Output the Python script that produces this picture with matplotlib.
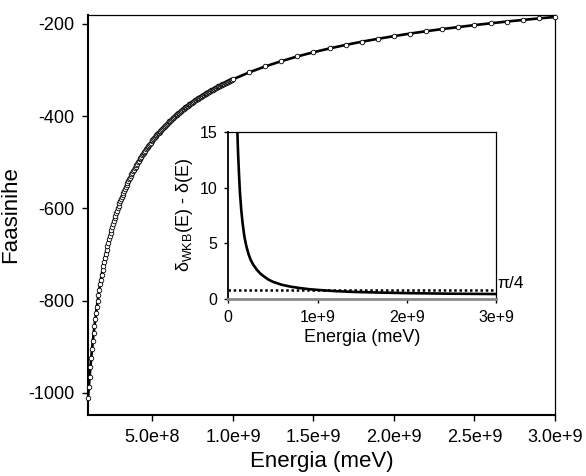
import matplotlib
matplotlib.use("Agg")
import matplotlib.pyplot as plt

plt.rcParams['font.family'] = ['Liberation Sans', 'DejaVu Sans']
plt.rcParams['mathtext.fontset'] = 'custom'
plt.rcParams['mathtext.rm'] = 'Liberation Sans'
plt.rcParams['mathtext.it'] = 'Liberation Sans'
plt.rcParams['axes.unicode_minus'] = False

# main plot: phase shift, dense points from 1e8 to 1e9 (step 5e6), then every 1e8
phase_dense = [
    -1011.9, -987.5, -964.8, -943.6, -923.8, -905.1, -887.5, -870.9, -855.2, -840.4,
    -826.2, -812.8, -800.0, -787.8, -776.1, -765.0, -754.3, -744.0, -734.1, -724.7,
    -715.5, -706.8, -698.3, -690.1, -682.2, -674.6, -667.2, -660.1, -653.2, -646.5,
    -640.0, -633.7, -627.6, -621.6, -615.8, -610.2, -604.7, -599.4, -594.2, -589.2,
    -584.2, -579.4, -574.7, -570.2, -565.7, -561.3, -557.0, -552.9, -548.8, -544.8,
    -540.9, -537.1, -533.3, -529.7, -526.1, -522.6, -519.1, -515.7, -512.4, -509.2,
    -506.0, -502.8, -499.8, -496.7, -493.8, -490.9, -488.0, -485.2, -482.4, -479.7,
    -477.0, -474.4, -471.8, -469.3, -466.8, -464.3, -461.9, -459.5, -457.1, -454.8,
    -452.5, -450.3, -448.1, -445.9, -443.8, -441.6, -439.6, -437.5, -435.5, -433.5,
    -431.5, -429.5, -427.6, -425.7, -423.9, -422.0, -420.2, -418.4, -416.6, -414.9,
    -413.1, -411.4, -409.7, -408.1, -406.4, -404.8, -403.2, -401.6, -400.0, -398.4,
    -396.9, -395.4, -393.9, -392.4, -390.9, -389.5, -388.1, -386.6, -385.2, -383.8,
    -382.5, -381.1, -379.8, -378.4, -377.1, -375.8, -374.5, -373.3, -372.0, -370.7,
    -369.5, -368.3, -367.1, -365.9, -364.7, -363.5, -362.3, -361.2, -360.0, -358.9,
    -357.8, -356.7, -355.6, -354.5, -353.4, -352.3, -351.2, -350.2, -349.1, -348.1,
    -347.1, -346.1, -345.1, -344.1, -343.1, -342.1, -341.1, -340.2, -339.2, -338.3,
    -337.3, -336.4, -335.5, -334.5, -333.6, -332.7, -331.8, -330.9, -330.1, -329.2,
    -328.3, -327.5, -326.6, -325.8, -324.9, -324.1, -323.3, -322.4, -321.6, -320.8,
    -320.0,
]
energy_dense = [1e8 + 5e6 * i for i in range(len(phase_dense))]
energy_sparse = [1.1e9, 1.2e9, 1.3e9, 1.4e9, 1.5e9, 1.6e9, 1.7e9, 1.8e9, 1.9e9, 2.0e9,
                 2.1e9, 2.2e9, 2.3e9, 2.4e9, 2.5e9, 2.6e9, 2.7e9, 2.8e9, 2.9e9, 3.0e9]
phase_sparse = [-305.1, -292.1, -280.7, -270.4, -261.3, -253.0, -245.4, -238.5, -232.2, -226.3,
                -220.8, -215.7, -211.0, -206.6, -202.4, -198.5, -194.7, -191.2, -187.9, -184.8]

x_ticks = [5e8, 1e9, 1.5e9, 2e9, 2.5e9, 3e9]
x_tick_labels = ['5.0e+8', '1.0e+9', '1.5e+9', '2.0e+9', '2.5e+9', '3.0e+9']
y_ticks = [-1000, -800, -600, -400, -200]

# inset: difference between WKB and exact phase shift
inset_energy = [0.100e9, 0.110e9, 0.120e9, 0.130e9, 0.145e9, 0.160e9, 0.180e9, 0.200e9,
                0.225e9, 0.250e9, 0.280e9, 0.320e9, 0.360e9, 0.400e9, 0.450e9, 0.500e9,
                0.600e9, 0.700e9, 0.800e9, 0.900e9, 1.000e9, 1.200e9, 1.400e9, 1.700e9,
                2.000e9, 2.500e9, 3.000e9]
inset_diff = [15.4, 13.0, 11.2, 9.6, 8.0, 6.8, 5.6, 4.8,
              4.05, 3.5, 3.05, 2.6, 2.25, 2.0, 1.72, 1.52,
              1.25, 1.08, 0.96, 0.86, 0.79, 0.68, 0.61, 0.55,
              0.50, 0.45, 0.42]
pi_quarter = 0.785398
inset_x_ticks = [0, 1e9, 2e9, 3e9]
inset_x_labels = ['0', '1e+9', '2e+9', '3e+9']
inset_y_ticks = [0, 5, 10, 15]

energy_all = energy_dense + energy_sparse
phase_all = phase_dense + phase_sparse

fig = plt.figure(figsize=(5.86, 4.76), dpi=100)
ax = fig.add_axes([0.1502, 0.1282, 0.7969, 0.8403])

ax.plot(energy_all, phase_all, color='black', lw=1.9, zorder=2)
ax.plot(energy_all, phase_all, linestyle='none', marker='o', ms=3.3,
        mfc='white', mec='black', mew=0.6, zorder=3, clip_on=False)

ax.set_xlim(1e8, 3e9)
ax.set_ylim(-1048, -180.5)
ax.set_xticks(x_ticks)
ax.set_xticklabels(x_tick_labels)
ax.set_yticks(y_ticks)
ax.tick_params(direction='out', length=4, width=1, labelsize=13, pad=6)
ax.set_xlabel('Energia (meV)', fontsize=16, labelpad=4)
ax.set_ylabel('Faasinihe', fontsize=16, labelpad=5)
for side in ['left', 'bottom']:
    ax.spines[side].set_linewidth(1.5)
for side in ['top', 'right']:
    ax.spines[side].set_linewidth(0.9)

# inset
ins = fig.add_axes([0.3896, 0.3725, 0.4568, 0.3502])
ins.plot(inset_energy, inset_diff, color='black', lw=1.9)
ins.plot([0, 3e9], [pi_quarter, pi_quarter], color='black', lw=1.8,
         linestyle=(0, (1, 1.1)), clip_on=False)
ins.text(3.02e9, pi_quarter - 0.05, 'π/4', fontsize=12.5, ha='left', va='bottom')
ins.set_xlim(0, 3e9)
ins.set_ylim(0, 15)
ins.set_xticks(inset_x_ticks)
ins.set_xticklabels(inset_x_labels)
ins.set_yticks(inset_y_ticks)
ins.tick_params(direction='out', length=3, width=1, labelsize=11.5, pad=5)
ins.set_xlabel('Energia (meV)', fontsize=13, labelpad=3)
ins.set_ylabel(r'$\delta_{\mathrm{WKB}}$(E) - $\delta$(E)', fontsize=13, labelpad=3)
ins.spines['bottom'].set_color('#888888')
ins.spines['bottom'].set_linewidth(2)
ins.spines['left'].set_linewidth(1.3)
for side in ['top', 'right']:
    ins.spines[side].set_linewidth(0.9)

fig.savefig('out.png', dpi=100)
